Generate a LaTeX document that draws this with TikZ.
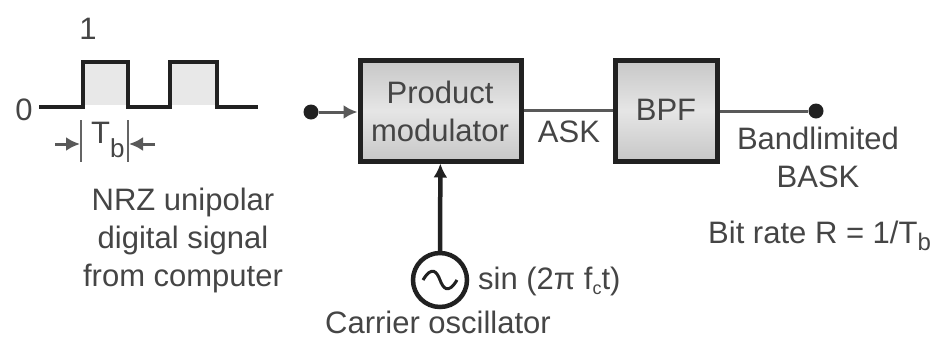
\documentclass[tikz,border=0pt]{standalone}
\usepackage{fontspec}
\setmainfont{Liberation Sans}
\usetikzlibrary{arrows.meta,calc}
\definecolor{ink}{gray}{0.13}
\definecolor{txt}{gray}{0.27}
\tikzset{
  x=1pt,y=-1pt,
  lbl/.style={inner sep=0pt,text=txt,font=\fontsize{31}{38}\selectfont,align=center},
  blockbox/.style={draw=ink,line width=5pt,minimum width=161pt,minimum height=101pt,inner sep=0pt,shade,top color=black!22,bottom color=black!22,middle color=black!10},
  wire/.style={draw=ink!75,line width=3pt},
  heavy/.style={draw=ink,line width=4.5pt},
  dotnode/.style={circle,fill=ink,inner sep=0pt,minimum size=15pt},
  head/.style={-{Latex[length=14pt,width=14pt]}},
}
\begin{document}
\begin{tikzpicture}
\useasboundingbox (0,0) rectangle (932,338);
% pulse pedestal shading
\fill[black!9] (85,64) rectangle (126,105);
\fill[black!9] (172,64) rectangle (215,105);
% signal
\coordinate (s0) at (39,107);
\coordinate (s1) at (258,107);
\draw[heavy,line join=miter] (s0) -- (83,107) -- (83,62) -- (128,62) -- (128,107) -- (170,107) -- (170,62) -- (217,62) -- (217,107) -- (s1);
\node[lbl] (one) at (88,29) {1};
\node[lbl] (zero) at (24,110) {0};
% bit width marker
\coordinate (t1a) at (81,120);
\coordinate (t1b) at (81,162);
\coordinate (t2a) at (128,120);
\coordinate (t2b) at (128,162);
\draw[draw=ink!70,line width=2.5pt] (t1a) -- (t1b);
\draw[draw=ink!70,line width=2.5pt] (t2a) -- (t2b);
\coordinate (a1) at (55,144);
\coordinate (a1e) at (80,144);
\coordinate (a2) at (155,144);
\coordinate (a2e) at (129,144);
\draw[wire,head] (a1) -- (a1e);
\draw[wire,head] (a2) -- (a2e);
\node[lbl,anchor=base west] (tb) at (91,143) {T\raisebox{-14pt}{\fontsize{26}{30}\selectfont b}};
\node[lbl] (nrz) at (183,240) {NRZ unipolar\\digital signal\\from computer};
% blocks
\node[blockbox] (pm) at (440.5,110.5) {};
\node[lbl] (pmt) at (440,111) {Product\\modulator};
\node[blockbox,minimum width=102pt] (bpf) at (666,110.5) {};
\node[lbl] (bpft) at (666,110) {BPF};
% input and output
\node[dotnode] (in) at (311,112) {};
\node[dotnode] (out) at (816,111) {};
\draw[wire,head] (in) -- (pm.west |- in);
\draw[wire] (pm.east |- bpf) -- (bpf.west);
\draw[wire] (bpf.east |- out) -- (out);
\node[lbl] (ask) at (569,132) {ASK};
\node[lbl] (bl) at (818,157) {Bandlimited\\BASK};
\node[lbl,anchor=base west] (rate) at (708,243) {Bit rate R = 1/T\raisebox{-7pt}{\fontsize{24}{30}\selectfont b}};
% oscillator
\node[circle,draw=ink,line width=4.5pt,minimum size=54pt,inner sep=0pt,fill=white] (osc) at (440,280) {};
\draw[draw=ink,line width=3pt] ($(osc.center)+(-17,0)$) .. controls ($(osc.center)+(-8,-15)$) and ($(osc.center)+(-3,-8)$) .. (osc.center) .. controls ($(osc.center)+(3,8)$) and ($(osc.center)+(8,15)$) .. ($(osc.center)+(17,0)$);
\draw[heavy,head] (osc) -- (pm);
\node[lbl,anchor=base west] (sin) at (478,289) {sin (2π f\raisebox{-5pt}{\fontsize{18}{20}\selectfont c}t)};
\node[lbl,anchor=base] (car) at (438,333) {Carrier oscillator};
\end{tikzpicture}
\end{document}
